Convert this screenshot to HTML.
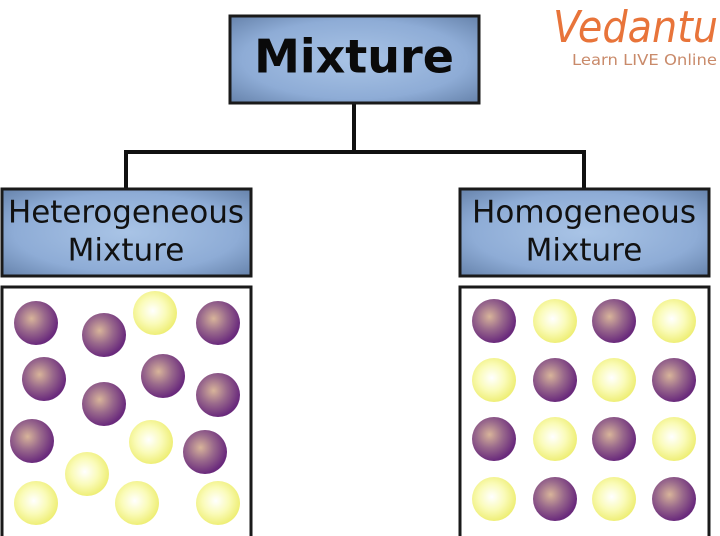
<!DOCTYPE html>
<html><head><meta charset="utf-8"><style>
html,body{margin:0;padding:0;background:#fff;}
svg{display:block;}
text{font-family:"DejaVu Sans","Liberation Sans",sans-serif;}
</style></head><body>
<svg width="720" height="536" viewBox="0 0 720 536" xmlns="http://www.w3.org/2000/svg">
<defs>
<radialGradient id="box" cx="50%" cy="50%" r="75%">
<stop offset="0" stop-color="#a9c4e6"/><stop offset="0.6" stop-color="#8eacd6"/><stop offset="1" stop-color="#5f7ba3"/>
</radialGradient>
<radialGradient id="pu" cx="40%" cy="40%" r="60%">
<stop offset="0" stop-color="#d8b49a"/><stop offset="0.5" stop-color="#9a6a8c"/><stop offset="1" stop-color="#6a2a7c"/>
</radialGradient>
<radialGradient id="ye" cx="45%" cy="45%" r="60%">
<stop offset="0" stop-color="#ffffff"/><stop offset="0.5" stop-color="#fafbb8"/><stop offset="1" stop-color="#ecec6a"/>
</radialGradient>
</defs>
<path d="M354 104 V152 M126 152 H584 M126 150 V188 M584 150 V188" stroke="#111" stroke-width="4" fill="none"/>
<rect x="230" y="16" width="249" height="87" fill="url(#box)" stroke="#1a1a1a" stroke-width="3"/>
<text x="354" y="60" font-size="46" font-weight="bold" text-anchor="middle" dominant-baseline="middle" fill="#0a0a0a">Mixture</text>
<rect x="2" y="189" width="249" height="87" fill="url(#box)" stroke="#1a1a1a" stroke-width="3"/>
<text x="126" y="214" font-size="31" text-anchor="middle" dominant-baseline="middle" fill="#111" textLength="236" lengthAdjust="spacingAndGlyphs">Heterogeneous</text>
<text x="126" y="252" font-size="31" text-anchor="middle" dominant-baseline="middle" fill="#111">Mixture</text>
<rect x="460" y="189" width="249" height="87" fill="url(#box)" stroke="#1a1a1a" stroke-width="3"/>
<text x="584" y="214" font-size="31" text-anchor="middle" dominant-baseline="middle" fill="#111" textLength="224" lengthAdjust="spacingAndGlyphs">Homogeneous</text>
<text x="584" y="252" font-size="31" text-anchor="middle" dominant-baseline="middle" fill="#111">Mixture</text>
<rect x="2" y="287" width="249" height="252" fill="#fff" stroke="#1a1a1a" stroke-width="3"/>
<rect x="460" y="287" width="249" height="252" fill="#fff" stroke="#1a1a1a" stroke-width="3"/>
<g>
<ellipse cx="36" cy="323" rx="22" ry="22" fill="url(#pu)"/>
<ellipse cx="104" cy="335" rx="22" ry="22" fill="url(#pu)"/>
<ellipse cx="155" cy="313" rx="22" ry="22" fill="url(#ye)"/>
<ellipse cx="218" cy="323" rx="22" ry="22" fill="url(#pu)"/>
<ellipse cx="44" cy="379" rx="22" ry="22" fill="url(#pu)"/>
<ellipse cx="104" cy="404" rx="22" ry="22" fill="url(#pu)"/>
<ellipse cx="163" cy="376" rx="22" ry="22" fill="url(#pu)"/>
<ellipse cx="218" cy="395" rx="22" ry="22" fill="url(#pu)"/>
<ellipse cx="32" cy="441" rx="22" ry="22" fill="url(#pu)"/>
<ellipse cx="151" cy="442" rx="22" ry="22" fill="url(#ye)"/>
<ellipse cx="205" cy="452" rx="22" ry="22" fill="url(#pu)"/>
<ellipse cx="87" cy="474" rx="22" ry="22" fill="url(#ye)"/>
<ellipse cx="36" cy="503" rx="22" ry="22" fill="url(#ye)"/>
<ellipse cx="137" cy="503" rx="22" ry="22" fill="url(#ye)"/>
<ellipse cx="218" cy="503" rx="22" ry="22" fill="url(#ye)"/>
</g>
<g>
<ellipse cx="494" cy="321" rx="22" ry="22" fill="url(#pu)"/>
<ellipse cx="555" cy="321" rx="22" ry="22" fill="url(#ye)"/>
<ellipse cx="614" cy="321" rx="22" ry="22" fill="url(#pu)"/>
<ellipse cx="674" cy="321" rx="22" ry="22" fill="url(#ye)"/>
<ellipse cx="494" cy="380" rx="22" ry="22" fill="url(#ye)"/>
<ellipse cx="555" cy="380" rx="22" ry="22" fill="url(#pu)"/>
<ellipse cx="614" cy="380" rx="22" ry="22" fill="url(#ye)"/>
<ellipse cx="674" cy="380" rx="22" ry="22" fill="url(#pu)"/>
<ellipse cx="494" cy="439" rx="22" ry="22" fill="url(#pu)"/>
<ellipse cx="555" cy="439" rx="22" ry="22" fill="url(#ye)"/>
<ellipse cx="614" cy="439" rx="22" ry="22" fill="url(#pu)"/>
<ellipse cx="674" cy="439" rx="22" ry="22" fill="url(#ye)"/>
<ellipse cx="494" cy="499" rx="22" ry="22" fill="url(#ye)"/>
<ellipse cx="555" cy="499" rx="22" ry="22" fill="url(#pu)"/>
<ellipse cx="614" cy="499" rx="22" ry="22" fill="url(#ye)"/>
<ellipse cx="674" cy="499" rx="22" ry="22" fill="url(#pu)"/>
</g>
<text x="553" y="42" font-size="44" font-style="italic" fill="#e8743a" font-family="Liberation Serif,serif" textLength="165" lengthAdjust="spacingAndGlyphs">Vedantu</text>
<text x="572" y="65" font-size="15" fill="#c98a6a" textLength="145" lengthAdjust="spacingAndGlyphs">Learn LIVE Online</text>
</svg>
</body></html>
